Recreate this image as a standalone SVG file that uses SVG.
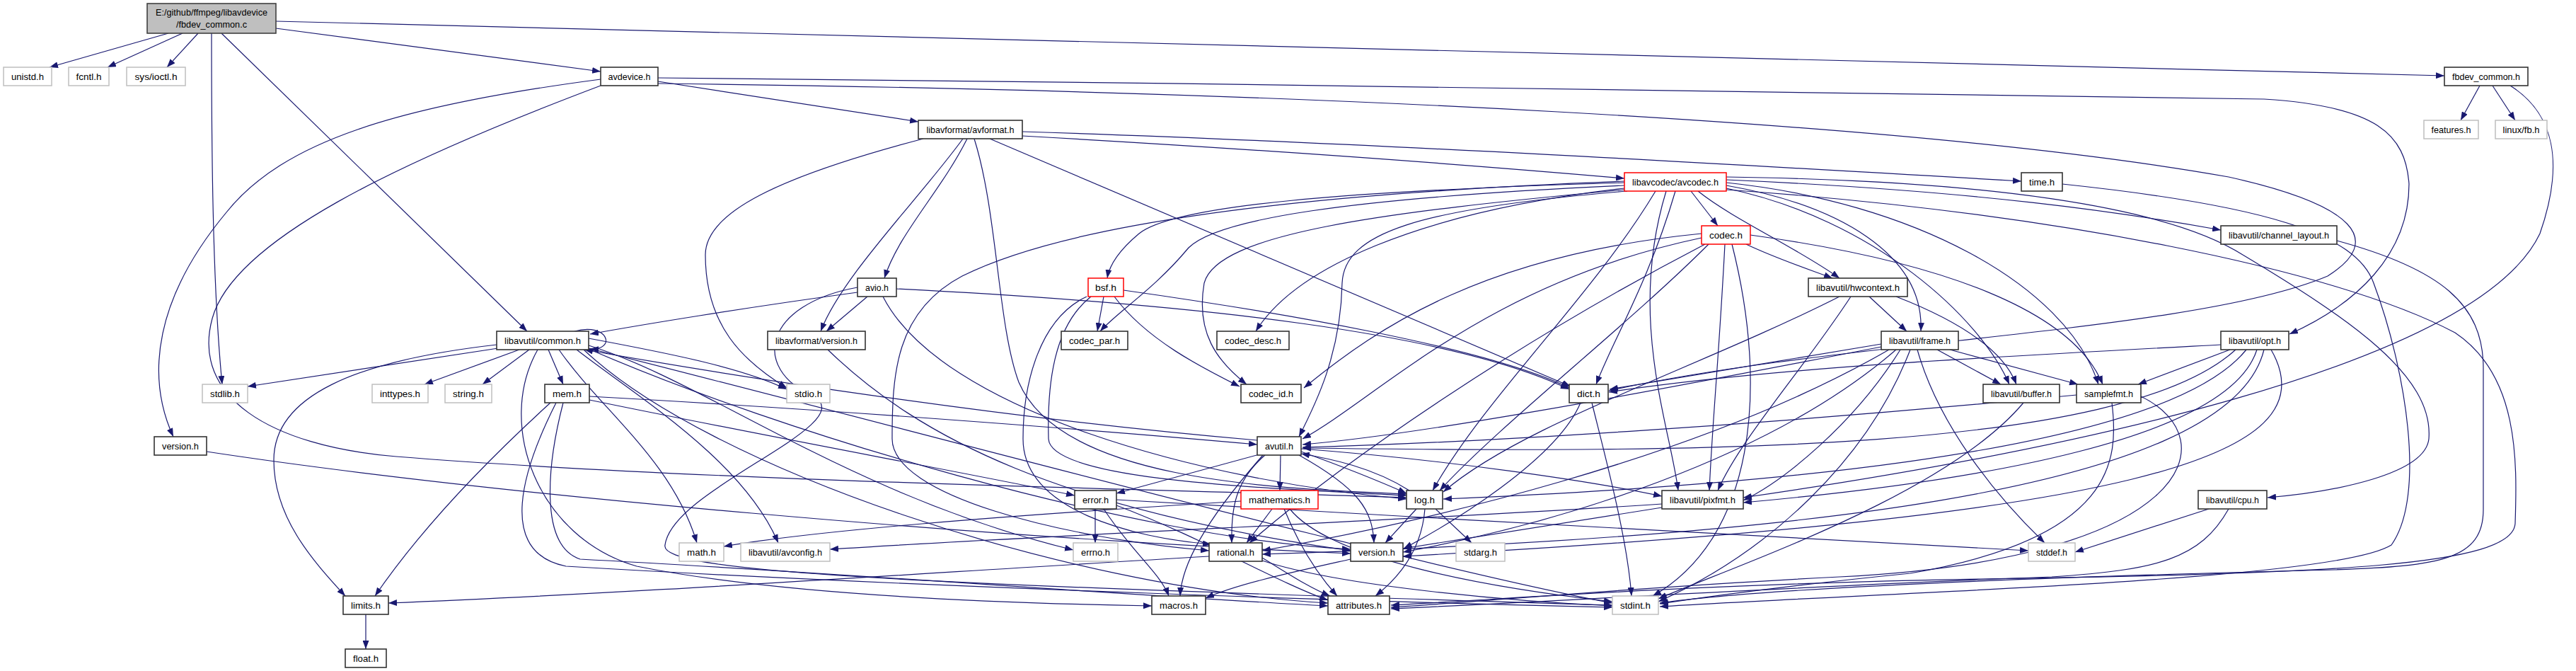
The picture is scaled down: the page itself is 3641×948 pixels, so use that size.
<svg xmlns="http://www.w3.org/2000/svg" width="3641" height="948" viewBox="0 0 3641 948">
<defs>
<marker id="a" markerWidth="12" markerHeight="9" refX="12" refY="4.5" orient="auto" markerUnits="userSpaceOnUse"><path d="M0,0 L12,4.5 L0,9 z" fill="#191970"/></marker>
<style>
.node rect{fill:#fff;stroke:#333;stroke-width:1.6}
.sys rect{stroke:#bfbfbf;stroke-width:1.5}
.red rect{stroke:#ff0000;stroke-width:1.5}
.top rect{fill:#bfbfbf;stroke:#404040}
.node text{font-family:"Liberation Sans",Arial,sans-serif;font-size:13px;fill:#000;text-anchor:middle}
#edges path{fill:none;stroke:#191970;stroke-width:1.2;marker-end:url(#a)}
</style>
</defs>
<rect width="3641" height="948" fill="#fff"/>
<g id="edges">
<path d="M238,47 L70,95"/>
<path d="M258,47 L152,95"/>
<path d="M280,47 L236,95"/>
<path d="M299,47 C299,200 300,400 314,543"/>
<path d="M313,47 L745,468"/>
<path d="M390,40 L849,101"/>
<path d="M390,30 L3455,107"/>
<path d="M3505,121 L3478,170"/>
<path d="M3523,121 L3555,170"/>
<path d="M3548,121 C3610,160 3625,230 3590,330 C3500,520 2900,640 2464,703"/>
<path d="M930,115 L1298,172"/>
<path d="M849,112 C560,150 400,200 320,300 C220,420 205,530 245,617"/>
<path d="M849,121 C560,230 330,340 300,450 C270,560 380,630 560,645 C1000,680 1600,690 1988,703"/>
<path d="M930,110 C1700,118 2600,128 3200,140 C3360,150 3400,190 3405,260 C3405,360 3330,430 3236,472"/>
<path d="M930,118 C1800,128 2700,170 3150,250 C3330,290 3370,340 3290,390 C3100,470 2600,480 2274,552"/>
<path d="M1445,192 C1800,212 2100,235 2296,252"/>
<path d="M1445,186 C1900,200 2500,235 2857,256"/>
<path d="M1305,196 C1100,250 997,300 997,360 C997,460 1050,510 1112,548"/>
<path d="M1361,196 C1300,280 1190,390 1160,468"/>
<path d="M1367,196 C1330,270 1270,330 1250,393"/>
<path d="M1377,196 C1410,300 1410,460 1440,540 C1500,680 1800,690 1988,698"/>
<path d="M1399,196 L2220,546"/>
<path d="M1212,413 C1050,435 900,460 834,472"/>
<path d="M1226,419 L1168,468"/>
<path d="M1267,408 C1700,430 2050,470 2218,550"/>
<path d="M1248,419 C1330,580 1700,680 1988,705"/>
<path d="M1212,406 C1080,430 1060,520 1150,560 C1220,600 950,690 940,770 C930,810 1300,825 2279,855"/>
<path d="M1170,494 C1300,620 1500,720 1909,778"/>
<path d="M292,638 C700,700 1400,760 1909,782"/>
<path d="M2296,258 C1900,270 1660,290 1610,330 C1580,355 1568,375 1565,393"/>
<path d="M2296,262 C1900,280 1720,310 1680,350 C1630,410 1580,440 1555,468"/>
<path d="M2296,266 C2000,300 1830,380 1775,468"/>
<path d="M2296,268 C1950,300 1720,330 1702,400 C1690,470 1720,510 1762,543"/>
<path d="M2300,270 C2000,295 1900,330 1897,400 C1895,500 1860,570 1836,617"/>
<path d="M2296,256 C1800,275 1500,320 1360,390 C1265,440 1261,530 1261,620 C1261,700 1500,760 1709,778"/>
<path d="M2368,270 C2330,400 2280,480 2256,543"/>
<path d="M2340,270 C2250,420 2100,560 2025,693"/>
<path d="M2355,270 C2300,450 2360,600 2372,693"/>
<path d="M2390,270 L2428,319"/>
<path d="M2400,270 C2450,310 2540,350 2600,393"/>
<path d="M2440,262 C2600,290 2720,360 2715,468"/>
<path d="M2440,266 C2650,310 2800,450 2840,543"/>
<path d="M2440,258 C2700,285 2920,400 2966,543"/>
<path d="M2440,254 C2800,270 3000,300 3139,325"/>
<path d="M2440,250 C2800,255 3060,290 3170,360 C3320,450 3440,530 3433,620 C3428,670 3300,695 3205,703"/>
<path d="M2440,268 C2900,300 3300,380 3470,470 C3560,530 3558,650 3555,740 C3550,800 3300,810 2800,818 C2400,825 2150,845 1966,855"/>
<path d="M2405,330 C2100,360 1950,460 1843,548"/>
<path d="M2405,336 C2100,400 1950,560 1841,620"/>
<path d="M2415,345 C2300,460 2120,600 2035,693"/>
<path d="M2438,345 C2430,500 2420,600 2416,693"/>
<path d="M2448,345 C2500,550 2480,760 2336,842"/>
<path d="M2468,345 C2510,365 2555,380 2590,393"/>
<path d="M2474,332 C2750,370 2930,440 2972,543"/>
<path d="M2410,345 C2150,480 1900,650 1766,767"/>
<path d="M3303,340 C3450,380 3510,430 3510,520 L3510,720 C3510,790 3450,800 3300,805 C2900,815 2500,830 2346,852"/>
<path d="M2915,260 C3200,290 3330,330 3355,400 C3400,520 3430,700 3380,770 C3300,820 2700,835 2346,857"/>
<path d="M1560,419 L1551,468"/>
<path d="M1575,419 C1620,480 1700,520 1752,546"/>
<path d="M1588,410 C1800,440 2100,490 2218,548"/>
<path d="M1542,419 C1490,460 1480,540 1482,620 C1485,680 1800,690 1988,700"/>
<path d="M1536,419 C1470,450 1446,540 1446,620 C1446,720 1600,760 1712,769"/>
<path d="M2642,419 L2695,468"/>
<path d="M2680,419 C2760,450 2830,490 2850,543"/>
<path d="M2600,419 C2400,520 2150,600 2040,695"/>
<path d="M2616,419 C2550,520 2460,620 2428,693"/>
<path d="M2659,486 L2275,550"/>
<path d="M2738,494 L2828,543"/>
<path d="M2756,494 L2937,543"/>
<path d="M2659,490 C2300,560 2000,615 1841,628"/>
<path d="M2686,494 C2620,600 2520,680 2464,707"/>
<path d="M2700,494 C2640,650 2500,780 2344,850"/>
<path d="M2710,494 C2740,600 2820,700 2890,767"/>
<path d="M2670,494 C2400,650 2000,740 1784,778"/>
<path d="M2680,494 C2500,650 2200,740 1983,780"/>
<path d="M3139,487 C2800,505 2500,520 2274,554"/>
<path d="M3152,494 L3022,543"/>
<path d="M3160,494 C3000,640 2400,640 1841,633"/>
<path d="M3175,494 C3050,650 2400,690 2040,705"/>
<path d="M3190,494 C3150,620 2800,680 2464,710"/>
<path d="M3200,494 C3150,700 2500,760 1784,783"/>
<path d="M3210,494 C3300,650 3000,730 1983,786"/>
<path d="M2935,558 C2500,600 2100,625 1841,632"/>
<path d="M2985,569 C2995,650 2990,760 2700,810 C2500,830 2400,845 2346,853"/>
<path d="M3026,560 C3150,620 3100,790 2600,815 C2300,830 2100,850 1966,858"/>
<path d="M2860,569 C2750,700 2450,800 2344,846"/>
<path d="M2250,569 C2270,650 2300,760 2306,842"/>
<path d="M2234,569 C2200,650 2050,740 1984,775"/>
<path d="M3122,719 L2933,780"/>
<path d="M3150,719 C3110,790 3050,805 2900,815 C2500,830 2200,850 1966,860"/>
<path d="M704,492 L350,546"/>
<path d="M734,494 L600,543"/>
<path d="M748,494 L682,543"/>
<path d="M775,494 L796,543"/>
<path d="M812,468 C860,455 872,495 834,493"/>
<path d="M702,487 C500,510 387,560 387,650 C387,730 440,790 488,842"/>
<path d="M790,494 C850,580 950,650 985,767"/>
<path d="M832,488 C1000,540 1200,700 1517,777"/>
<path d="M815,494 C900,560 1050,650 1100,767"/>
<path d="M832,478 C950,500 1050,520 1112,550"/>
<path d="M832,492 C1300,610 2000,800 2279,852"/>
<path d="M825,494 C1000,660 1500,830 1877,852"/>
<path d="M760,494 C700,600 760,760 900,800 C1100,840 1400,852 1628,856"/>
<path d="M832,493 C1100,610 1600,760 1909,776"/>
<path d="M833,560 C1200,580 1600,612 1777,628"/>
<path d="M833,565 C1100,620 1350,665 1519,700"/>
<path d="M778,569 C700,640 600,740 530,842"/>
<path d="M786,569 C740,660 700,780 800,800 C1300,830 2000,852 2279,858"/>
<path d="M796,569 C775,650 760,770 820,790 C1200,810 1600,842 1877,856"/>
<path d="M1810,643 L1809,693"/>
<path d="M1780,642 L1578,697"/>
<path d="M1788,643 C1745,680 1740,720 1741,767"/>
<path d="M1785,643 C1700,740 1670,800 1668,842"/>
<path d="M1839,638 C1900,660 1950,680 1988,697"/>
<path d="M1836,643 C1920,690 1940,720 1942,767"/>
<path d="M1839,634 C2050,650 2250,680 2349,701"/>
<path d="M1777,622 C1400,590 1000,525 826,494"/>
<path d="M2029,719 L2080,767"/>
<path d="M2002,719 L1958,767"/>
<path d="M2014,719 C2010,770 1985,810 1944,842"/>
<path d="M1992,693 C1940,660 1880,648 1839,641"/>
<path d="M1798,719 L1762,767"/>
<path d="M1754,708 C1400,730 1150,750 1023,772"/>
<path d="M1815,719 C1840,780 1870,820 1890,842"/>
<path d="M1823,719 C1880,790 2100,830 2279,850"/>
<path d="M1548,719 L1548,767"/>
<path d="M1578,706 C2000,730 2500,760 2867,778"/>
<path d="M1560,719 C1600,780 1640,810 1652,842"/>
<path d="M1578,714 C1700,760 1800,820 1877,848"/>
<path d="M2349,712 C2000,735 1500,755 1173,776"/>
<path d="M2349,717 L1983,775"/>
<path d="M1709,786 C1300,810 900,838 549,852"/>
<path d="M1784,788 C1820,810 1850,830 1880,842"/>
<path d="M1784,792 C1900,830 2150,850 2279,856"/>
<path d="M1909,790 C1820,810 1750,825 1704,845"/>
<path d="M517,868 L517,917"/>
</g>
<g id="n0" class="node top"><rect x="208" y="5" width="182" height="42"/><text x="299" y="22" textLength="158" lengthAdjust="spacingAndGlyphs">E:/github/ffmpeg/libavdevice</text><text x="299" y="39" textLength="100" lengthAdjust="spacingAndGlyphs">/fbdev_common.c</text></g>
<g id="n_unistd" class="node sys"><rect x="5" y="95" width="68" height="26"/><text x="39" y="112.5" textLength="46" lengthAdjust="spacingAndGlyphs">unistd.h</text></g>
<g id="n_fcntl" class="node sys"><rect x="97" y="95" width="57" height="26"/><text x="125.5" y="112.5" textLength="36" lengthAdjust="spacingAndGlyphs">fcntl.h</text></g>
<g id="n_sysioctl" class="node sys"><rect x="179" y="95" width="83" height="26"/><text x="220.5" y="112.5" textLength="60" lengthAdjust="spacingAndGlyphs">sys/ioctl.h</text></g>
<g id="n_avdevice" class="node"><rect x="849" y="95" width="81" height="26"/><text x="889.5" y="112.5" textLength="60" lengthAdjust="spacingAndGlyphs">avdevice.h</text></g>
<g id="n_fbdevh" class="node"><rect x="3455" y="95" width="118" height="26"/><text x="3514" y="112.5" textLength="96" lengthAdjust="spacingAndGlyphs">fbdev_common.h</text></g>
<g id="n_avformat" class="node"><rect x="1298" y="170" width="147" height="26"/><text x="1371.5" y="187.5" textLength="124" lengthAdjust="spacingAndGlyphs">libavformat/avformat.h</text></g>
<g id="n_features" class="node sys"><rect x="3426" y="170" width="77" height="26"/><text x="3464.5" y="187.5" textLength="56" lengthAdjust="spacingAndGlyphs">features.h</text></g>
<g id="n_linuxfb" class="node sys"><rect x="3527" y="170" width="73" height="26"/><text x="3563.5" y="187.5" textLength="52" lengthAdjust="spacingAndGlyphs">linux/fb.h</text></g>
<g id="n_avcodec" class="node red"><rect x="2296" y="244" width="144" height="26"/><text x="2368" y="261.5" textLength="122" lengthAdjust="spacingAndGlyphs">libavcodec/avcodec.h</text></g>
<g id="n_time" class="node"><rect x="2857" y="244" width="58" height="26"/><text x="2886" y="261.5" textLength="36" lengthAdjust="spacingAndGlyphs">time.h</text></g>
<g id="n_codec" class="node red"><rect x="2405" y="319" width="69" height="26"/><text x="2439.5" y="336.5" textLength="47" lengthAdjust="spacingAndGlyphs">codec.h</text></g>
<g id="n_chlayout" class="node"><rect x="3139" y="319" width="164" height="26"/><text x="3221" y="336.5" textLength="142" lengthAdjust="spacingAndGlyphs">libavutil/channel_layout.h</text></g>
<g id="n_avio" class="node"><rect x="1212" y="393" width="55" height="26"/><text x="1239.5" y="410.5" textLength="33" lengthAdjust="spacingAndGlyphs">avio.h</text></g>
<g id="n_bsf" class="node red"><rect x="1538" y="393" width="50" height="26"/><text x="1563" y="410.5" textLength="30" lengthAdjust="spacingAndGlyphs">bsf.h</text></g>
<g id="n_hwcontext" class="node"><rect x="2556" y="393" width="140" height="26"/><text x="2626" y="410.5" textLength="118" lengthAdjust="spacingAndGlyphs">libavutil/hwcontext.h</text></g>
<g id="n_common" class="node"><rect x="702" y="468" width="130" height="26"/><text x="767" y="485.5" textLength="108" lengthAdjust="spacingAndGlyphs">libavutil/common.h</text></g>
<g id="n_lavfversion" class="node"><rect x="1085" y="468" width="138" height="26"/><text x="1154" y="485.5" textLength="116" lengthAdjust="spacingAndGlyphs">libavformat/version.h</text></g>
<g id="n_codec_par" class="node"><rect x="1500" y="468" width="94" height="26"/><text x="1547" y="485.5" textLength="72" lengthAdjust="spacingAndGlyphs">codec_par.h</text></g>
<g id="n_codec_desc" class="node"><rect x="1720" y="468" width="102" height="26"/><text x="1771" y="485.5" textLength="80" lengthAdjust="spacingAndGlyphs">codec_desc.h</text></g>
<g id="n_frame" class="node"><rect x="2659" y="468" width="109" height="26"/><text x="2713.5" y="485.5" textLength="87" lengthAdjust="spacingAndGlyphs">libavutil/frame.h</text></g>
<g id="n_opt" class="node"><rect x="3139" y="468" width="96" height="26"/><text x="3187" y="485.5" textLength="74" lengthAdjust="spacingAndGlyphs">libavutil/opt.h</text></g>
<g id="n_stdlib" class="node sys"><rect x="286" y="543" width="64" height="26"/><text x="318" y="560.5" textLength="42" lengthAdjust="spacingAndGlyphs">stdlib.h</text></g>
<g id="n_inttypes" class="node sys"><rect x="526" y="543" width="79" height="26"/><text x="565.5" y="560.5" textLength="57" lengthAdjust="spacingAndGlyphs">inttypes.h</text></g>
<g id="n_string" class="node sys"><rect x="629" y="543" width="66" height="26"/><text x="662" y="560.5" textLength="44" lengthAdjust="spacingAndGlyphs">string.h</text></g>
<g id="n_mem" class="node"><rect x="770" y="543" width="63" height="26"/><text x="801.5" y="560.5" textLength="41" lengthAdjust="spacingAndGlyphs">mem.h</text></g>
<g id="n_stdio" class="node sys"><rect x="1112" y="543" width="61" height="26"/><text x="1142.5" y="560.5" textLength="39" lengthAdjust="spacingAndGlyphs">stdio.h</text></g>
<g id="n_codec_id" class="node"><rect x="1754" y="543" width="85" height="26"/><text x="1796.5" y="560.5" textLength="63" lengthAdjust="spacingAndGlyphs">codec_id.h</text></g>
<g id="n_dict" class="node"><rect x="2218" y="543" width="55" height="26"/><text x="2245.5" y="560.5" textLength="33" lengthAdjust="spacingAndGlyphs">dict.h</text></g>
<g id="n_buffer" class="node"><rect x="2803" y="543" width="108" height="26"/><text x="2857" y="560.5" textLength="86" lengthAdjust="spacingAndGlyphs">libavutil/buffer.h</text></g>
<g id="n_samplefmt" class="node"><rect x="2935" y="543" width="91" height="26"/><text x="2980.5" y="560.5" textLength="69" lengthAdjust="spacingAndGlyphs">samplefmt.h</text></g>
<g id="n_avdversion" class="node"><rect x="218" y="617" width="74" height="26"/><text x="255" y="634.5" textLength="52" lengthAdjust="spacingAndGlyphs">version.h</text></g>
<g id="n_avutil" class="node"><rect x="1777" y="617" width="62" height="26"/><text x="1808" y="634.5" textLength="40" lengthAdjust="spacingAndGlyphs">avutil.h</text></g>
<g id="n_error" class="node"><rect x="1519" y="693" width="59" height="26"/><text x="1548.5" y="710.5" textLength="37" lengthAdjust="spacingAndGlyphs">error.h</text></g>
<g id="n_mathematics" class="node red"><rect x="1754" y="693" width="109" height="26"/><text x="1808.5" y="710.5" textLength="87" lengthAdjust="spacingAndGlyphs">mathematics.h</text></g>
<g id="n_log" class="node"><rect x="1988" y="693" width="51" height="26"/><text x="2013.5" y="710.5" textLength="29" lengthAdjust="spacingAndGlyphs">log.h</text></g>
<g id="n_pixfmt" class="node"><rect x="2349" y="693" width="115" height="26"/><text x="2406.5" y="710.5" textLength="93" lengthAdjust="spacingAndGlyphs">libavutil/pixfmt.h</text></g>
<g id="n_cpu" class="node"><rect x="3107" y="693" width="97" height="26"/><text x="3155.5" y="710.5" textLength="75" lengthAdjust="spacingAndGlyphs">libavutil/cpu.h</text></g>
<g id="n_math" class="node sys"><rect x="960" y="767" width="63" height="26"/><text x="991.5" y="784.5" textLength="41" lengthAdjust="spacingAndGlyphs">math.h</text></g>
<g id="n_avconfig" class="node sys"><rect x="1047" y="767" width="126" height="26"/><text x="1110" y="784.5" textLength="104" lengthAdjust="spacingAndGlyphs">libavutil/avconfig.h</text></g>
<g id="n_errno" class="node sys"><rect x="1517" y="767" width="63" height="26"/><text x="1548.5" y="784.5" textLength="41" lengthAdjust="spacingAndGlyphs">errno.h</text></g>
<g id="n_rational" class="node"><rect x="1709" y="767" width="75" height="26"/><text x="1746.5" y="784.5" textLength="53" lengthAdjust="spacingAndGlyphs">rational.h</text></g>
<g id="n_avuversion" class="node"><rect x="1909" y="767" width="74" height="26"/><text x="1946" y="784.5" textLength="52" lengthAdjust="spacingAndGlyphs">version.h</text></g>
<g id="n_stdarg" class="node sys"><rect x="2058" y="767" width="69" height="26"/><text x="2092.5" y="784.5" textLength="47" lengthAdjust="spacingAndGlyphs">stdarg.h</text></g>
<g id="n_stddef" class="node sys"><rect x="2867" y="767" width="66" height="26"/><text x="2900" y="784.5" textLength="44" lengthAdjust="spacingAndGlyphs">stddef.h</text></g>
<g id="n_limits" class="node"><rect x="485" y="842" width="64" height="26"/><text x="517" y="859.5" textLength="42" lengthAdjust="spacingAndGlyphs">limits.h</text></g>
<g id="n_macros" class="node"><rect x="1628" y="842" width="76" height="26"/><text x="1666" y="859.5" textLength="54" lengthAdjust="spacingAndGlyphs">macros.h</text></g>
<g id="n_attributes" class="node"><rect x="1877" y="842" width="87" height="26"/><text x="1920.5" y="859.5" textLength="65" lengthAdjust="spacingAndGlyphs">attributes.h</text></g>
<g id="n_stdint" class="node sys"><rect x="2279" y="842" width="65" height="26"/><text x="2311.5" y="859.5" textLength="43" lengthAdjust="spacingAndGlyphs">stdint.h</text></g>
<g id="n_float" class="node"><rect x="488" y="917" width="58" height="26"/><text x="517" y="934.5" textLength="36" lengthAdjust="spacingAndGlyphs">float.h</text></g>
</svg>
